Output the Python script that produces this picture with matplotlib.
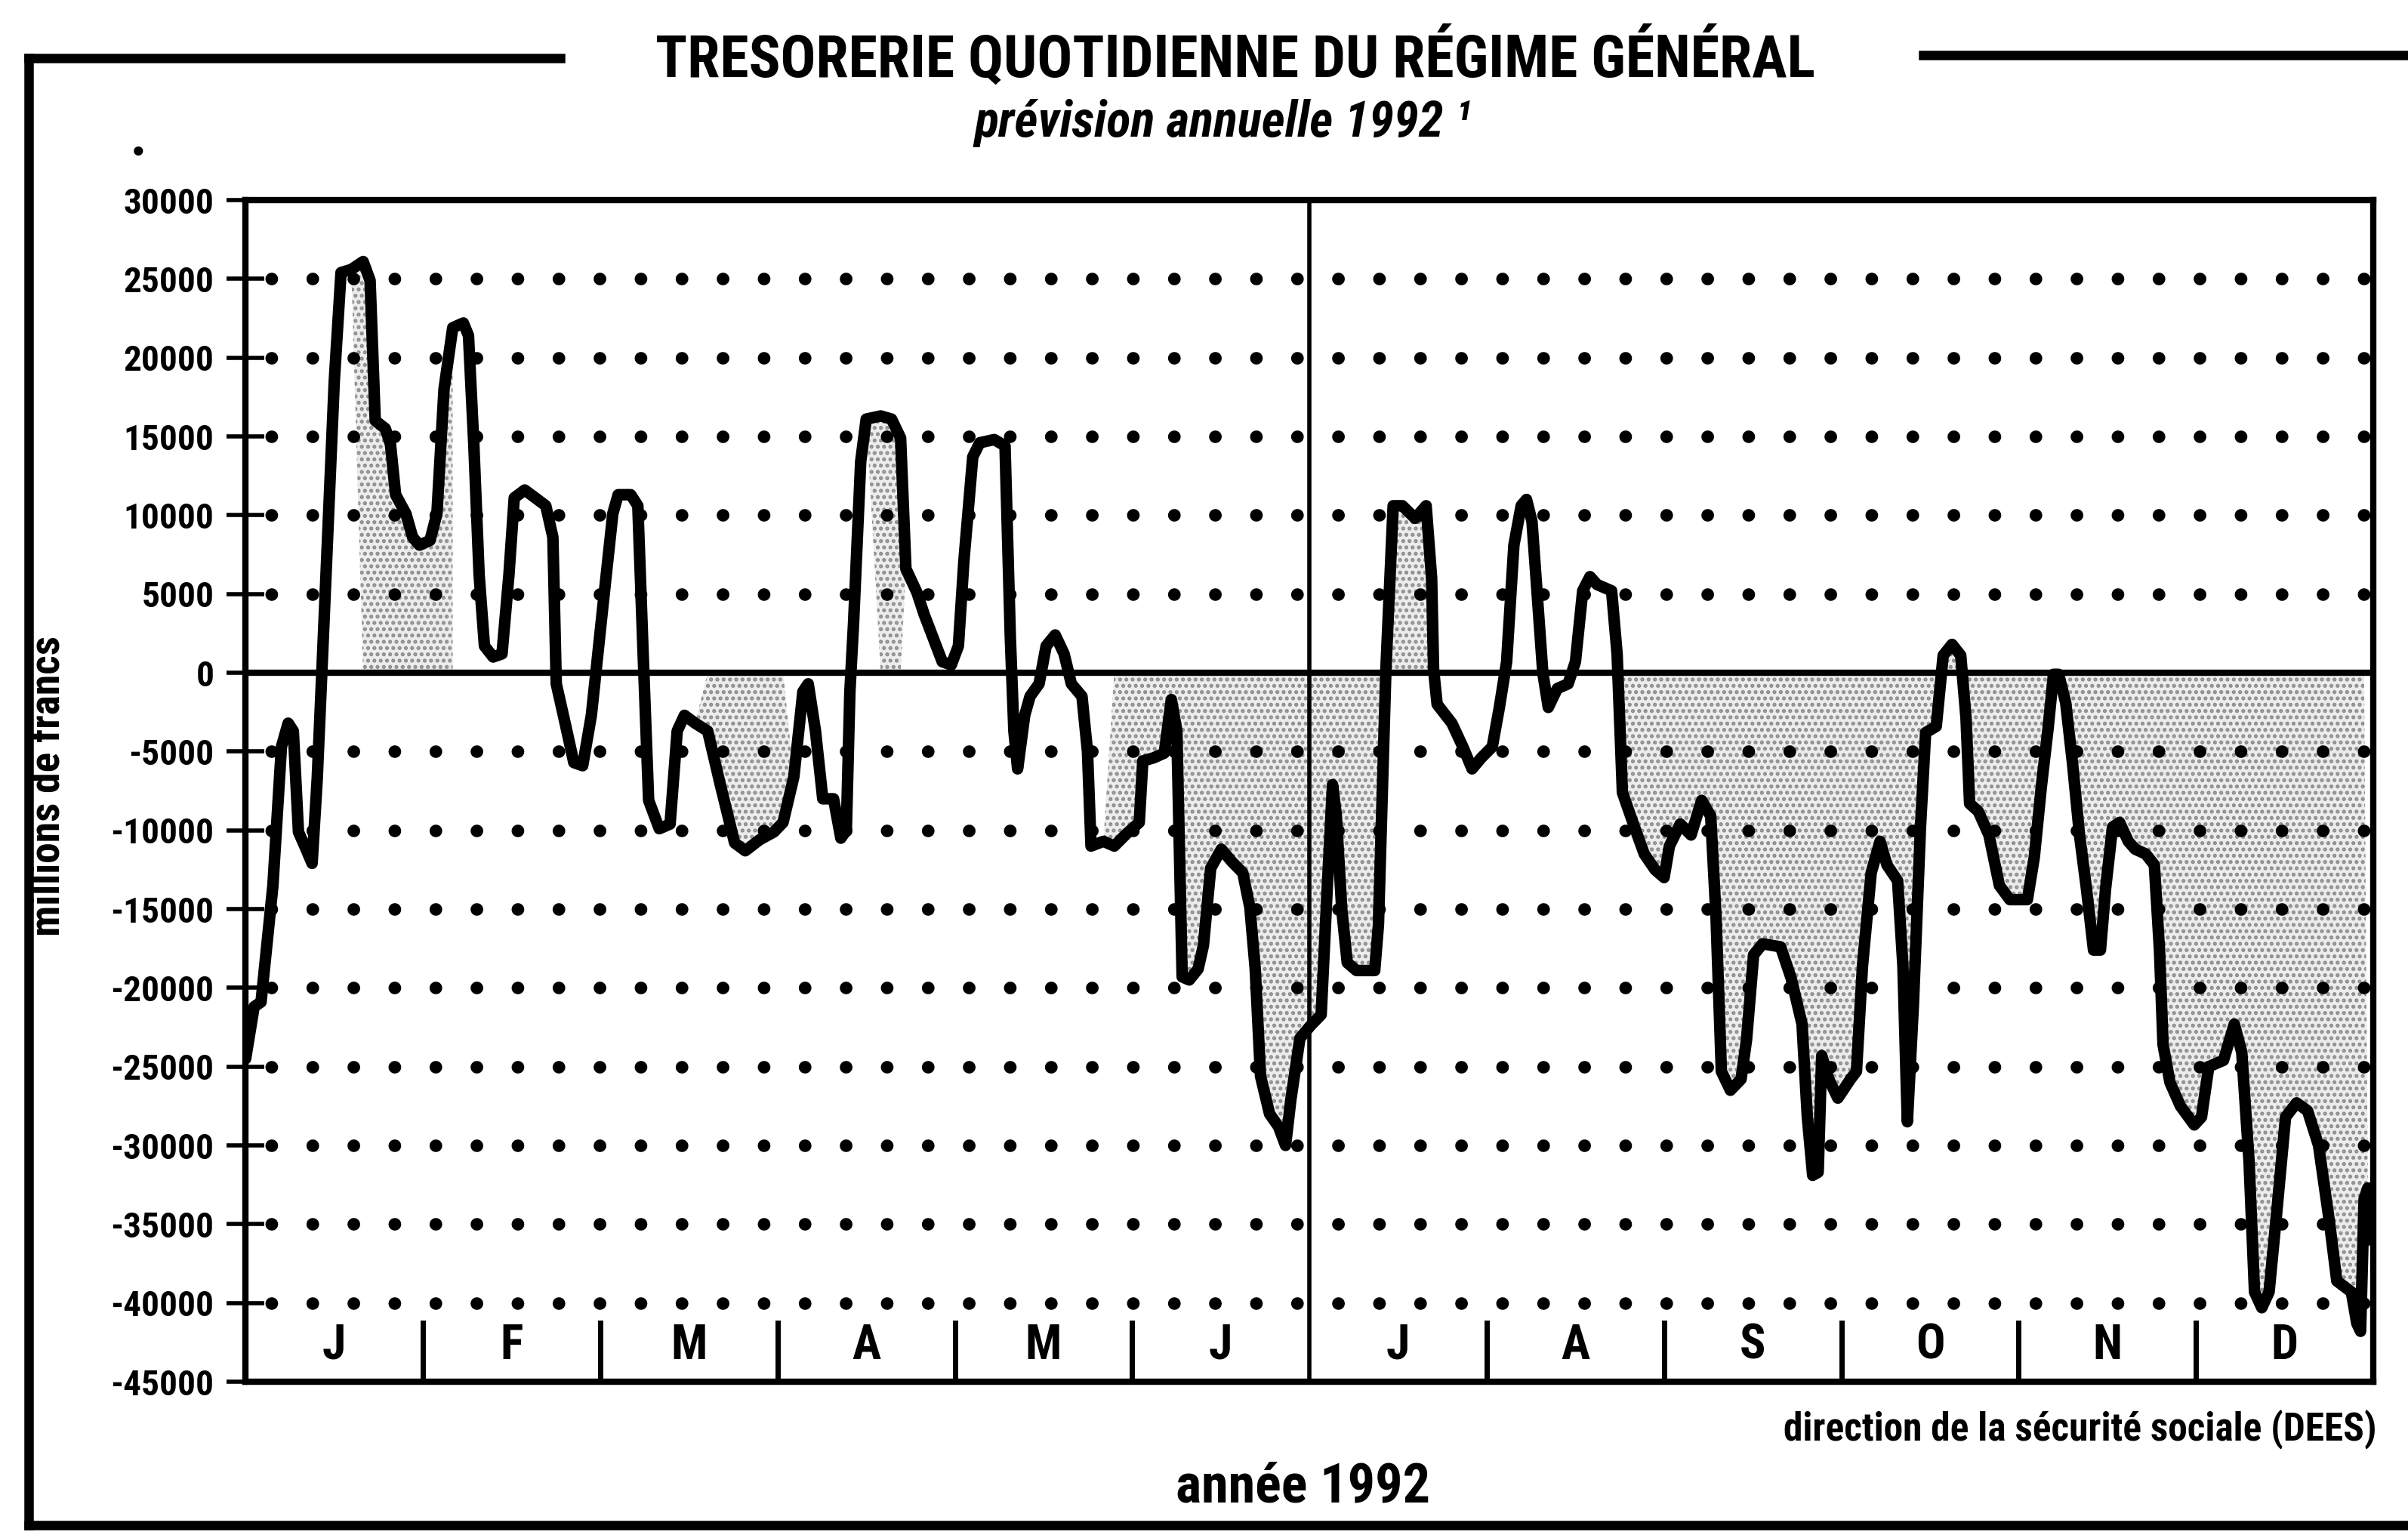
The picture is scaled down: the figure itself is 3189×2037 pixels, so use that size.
import numpy as np
import matplotlib.pyplot as plt
from matplotlib.lines import Line2D

NARROW = ['Liberation Sans Narrow', 'DejaVu Sans Condensed', 'Roboto Condensed', 'DejaVu Sans']

months = ["J", "F", "M", "A", "M", "J", "J", "A", "S", "O", "N", "D"]
y_ticks = [30000, 25000, 20000, 15000, 10000, 5000, 0, -5000, -10000,
           -15000, -20000, -25000, -30000, -35000, -40000, -45000]
grid_levels = [25000, 20000, 15000, 10000, 5000, -5000, -10000, -15000,
               -20000, -25000, -30000, -35000, -40000]

# position in months since 1 Jan 1992
pos = [
    0.000, 0.048, 0.087, 0.154, 0.202, 0.240, 0.269, 0.298, 0.337, 0.375, 0.404, 0.442,
    0.500, 0.538, 0.596, 0.663, 0.702, 0.731, 0.788, 0.817, 0.846, 0.904, 0.942, 0.981,
    1.040, 1.079, 1.119, 1.168, 1.228, 1.257, 1.287, 1.317, 1.347, 1.396, 1.446, 1.485,
    1.515, 1.574, 1.634, 1.693, 1.733, 1.752, 1.802, 1.851, 1.901, 1.950,
    2.010, 2.071, 2.101, 2.172, 2.212, 2.242, 2.273, 2.333, 2.394, 2.434, 2.475, 2.535,
    2.606, 2.677, 2.758, 2.818, 2.899, 2.980,
    3.031, 3.092, 3.143, 3.173, 3.214, 3.255, 3.316, 3.357, 3.388, 3.408, 3.429, 3.469,
    3.500, 3.582, 3.643, 3.694, 3.724, 3.786, 3.827, 3.878, 3.929, 3.980,
    4.020, 4.051, 4.101, 4.141, 4.222, 4.283, 4.313, 4.333, 4.354, 4.394, 4.424, 4.475,
    4.515, 4.566, 4.616, 4.657, 4.717, 4.748, 4.768, 4.838, 4.899, 4.970,
    5.040, 5.060, 5.121, 5.181, 5.221, 5.252, 5.282, 5.322, 5.372, 5.402, 5.443, 5.503,
    5.563, 5.624, 5.664, 5.694, 5.724, 5.775, 5.825, 5.865, 5.895, 5.946,
    6.006, 6.066, 6.097, 6.130, 6.151, 6.182, 6.213, 6.265, 6.368, 6.389, 6.431, 6.472,
    6.524, 6.596, 6.658, 6.689, 6.700, 6.720, 6.803, 6.865, 6.917, 6.969,
    7.031, 7.071, 7.112, 7.153, 7.194, 7.224, 7.255, 7.316, 7.347, 7.398, 7.459, 7.500,
    7.541, 7.582, 7.622, 7.704, 7.735, 7.765, 7.827, 7.888, 7.949,
    8.000, 8.030, 8.091, 8.152, 8.212, 8.263, 8.293, 8.323, 8.374, 8.434, 8.465, 8.505,
    8.556, 8.657, 8.717, 8.778, 8.808, 8.838, 8.869, 8.889, 8.929, 8.980,
    9.051, 9.085, 9.119, 9.168, 9.218, 9.257, 9.317, 9.347, 9.372, 9.406, 9.446, 9.475,
    9.535, 9.574, 9.624, 9.673, 9.703, 9.723, 9.772, 9.832, 9.891, 9.950,
    10.049, 10.088, 10.127, 10.167, 10.196, 10.225, 10.265, 10.304, 10.343, 10.382, 10.422,
    10.461, 10.490, 10.529, 10.569, 10.618, 10.657, 10.716, 10.765, 10.794, 10.814, 10.853,
    10.912, 10.990,
    11.031, 11.072, 11.155, 11.216, 11.258, 11.299, 11.330, 11.371, 11.412, 11.454, 11.505,
    11.567, 11.629, 11.691, 11.753, 11.794, 11.876, 11.907, 11.928, 11.948, 11.969, 11.985,
]

# daily treasury balance, millions de francs
solde = [
    -24500, -21200, -20900, -13500, -4700, -3200, -3700, -10100, -11100, -12100, -6700, 3200,
    18500, 25400, 25600, 26100, 24900, 16000, 15500, 14500, 11300, 10100, 8600, 8100,
    8400, 10100, 18000, 21900, 22200, 21400, 14500, 6200, 1700, 1000, 1200, 6200,
    11100, 11600, 11100, 10600, 8600, -700, -3200, -5700, -5900, -2700,
    3700, 10100, 11300, 11300, 10600, 1200, -8100, -9900, -9600, -3700, -2700, -3200,
    -3700, -7100, -10800, -11300, -10600, -10100,
    -9500, -6600, -1200, -700, -3700, -8000, -8000, -10500, -10000, -1200, 3200, 13400,
    16100, 16300, 16100, 14900, 6600, 5100, 3700, 2200, 700, 500,
    1700, 7100, 13700, 14600, 14800, 14400, 2200, -3700, -6100, -2700, -1500, -700,
    1700, 2400, 1200, -700, -1500, -5000, -11000, -10700, -11000, -10200,
    -9500, -5600, -5400, -5100, -1700, -3700, -19300, -19500, -18800, -17300, -12400, -11200,
    -12000, -12700, -14900, -18800, -25600, -28000, -28800, -30000, -27100, -23200,
    -22400, -21700, -14400, -7100, -9000, -15000, -18400, -18900, -18900, -16000, 200, 10600,
    10600, 9800, 10600, 6000, 200, -2000, -3200, -4700, -6100, -5400,
    -4700, -2200, 700, 8100, 10600, 11000, 9600, 0, -2200, -1000, -700, 700,
    5200, 6100, 5600, 5200, 1200, -7600, -9600, -11500, -12500,
    -13000, -11000, -9600, -10300, -8100, -9100, -15500, -25300, -26500, -25800, -23300, -17900,
    -17200, -17400, -19400, -22300, -28200, -31900, -31700, -24300, -25800, -27000,
    -25800, -25300, -18600, -12700, -10700, -12200, -13200, -18600, -28500, -21100, -9800, -3800,
    -3400, 1100, 1800, 1100, -2900, -8300, -8800, -10300, -13500, -14400,
    -14400, -11700, -7300, -3400, -100, -100, -1900, -5800, -10300, -13700, -17600,
    -17600, -13700, -9800, -9500, -10700, -11200, -11500, -12200, -17600, -23600, -26000,
    -27500, -28700,
    -28200, -25000, -24600, -22300, -24100, -31000, -39300, -40300, -39300, -34400, -28200,
    -27300, -27800, -30000, -34900, -38600, -39300, -41300, -41800, -33400, -32700, -36000,
]

# stippled zones of the original (month ranges)
shade_spans = [(0.6, 1.2), (2.57, 3.04), (3.55, 3.7), (4.85, 6.4), (6.45, 6.7), (7.75, 11.95)]

x = np.array(pos)
y = np.array(solde)

fig = plt.figure(figsize=(31.89, 20.37), dpi=100)
ax = fig.add_axes([0.102, 0.1016, 0.8836, 0.7683])

plt.rcParams['hatch.linewidth'] = 2.5
for a, b in shade_spans:
    mask = (x >= a) & (x <= b)
    ax.fill_between(x, y, 0, where=mask, interpolate=True, facecolor='#ececec',
                    hatch='..', edgecolor='#8c8c8c', linewidth=0, zorder=1)

ax.hlines(grid_levels, 0, 12, colors='black', linewidth=12,
          linestyles=(1.2, (0.01, 3.25)), capstyle='round', zorder=2)

ax.axhline(0, color='black', lw=6, zorder=3)
ax.axvline(6, color='black', lw=4, zorder=3)
for m in range(1, 12):
    if m != 6:
        ax.axvline(m, 0, 0.05, color='black', lw=5, zorder=3)
for i, name in enumerate(months):
    ax.text(i + 0.5, -42700, name, ha='center', va='center', fontsize=46,
            fontweight='bold', family=NARROW)

ax.plot(x, y, color='black', lw=11, solid_joinstyle='round', solid_capstyle='round', zorder=4)

ax.set_xlim(0, 12)
ax.set_ylim(-45000, 30000)
ax.set_xticks([])
ax.set_yticks(y_ticks)
ax.set_yticklabels([str(v) for v in y_ticks], fontsize=34, fontweight='bold', family=NARROW)
ax.tick_params(axis='y', direction='inout', length=36, width=4, pad=12)
for s in ax.spines.values():
    s.set_linewidth(6)

# outer frame with gap for the title
for xs, ys in [([0.0119, 0.2327], [0.962, 0.962]),
               ([0.7987, 1.0], [0.964, 0.964]),
               ([0.0119, 0.0119], [0.962, 0.0083]),
               ([0.0119, 1.0], [0.0083, 0.0083])]:
    fig.add_artist(Line2D(xs, ys, transform=fig.transFigure, color='black', lw=9))

title = fig.text(0.513, 0.962, "TRESORERIE QUOTIDIENNE DU RÉGIME GÉNÉRAL", ha='center',
                 va='center', fontsize=56, fontweight='bold', family=NARROW)
sub = fig.text(0.508, 0.920, "prévision annuelle 1992 ¹", ha='center', va='center',
               fontsize=48, fontweight='bold', fontstyle='italic', family=NARROW)
fig.text(0.0575, 0.900, "•", ha='center', va='center', fontsize=30)
ylab = fig.text(0.020, 0.489, "millions de francs", rotation=90, ha='center', va='center',
                fontsize=40, fontweight='bold', family=NARROW)
src = fig.text(0.987, 0.071, "direction de la sécurité sociale (DEES)", ha='right',
               va='center', fontsize=37, fontweight='bold', family=NARROW)
yr = fig.text(0.541, 0.033, "année 1992", ha='center', va='center',
              fontsize=52, fontweight='bold', family=NARROW)

# shrink texts to the widths measured on the original
renderer = fig.canvas.get_renderer()
for t, target, vertical in [(title, 1697, False), (sub, 728, False), (ylab, 465, True),
                            (src, 916, False), (yr, 362, False)]:
    bb = t.get_window_extent(renderer)
    size = bb.height if vertical else bb.width
    if size > target:
        t.set_fontsize(t.get_fontsize() * target / size)

fig.savefig("out.png", dpi=100)
